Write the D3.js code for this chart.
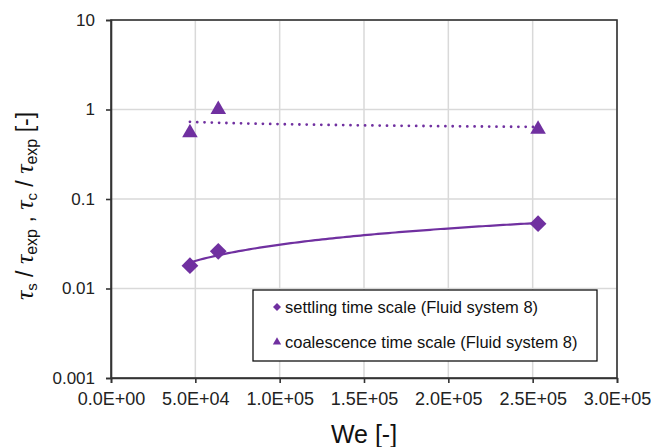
<!DOCTYPE html>
<html>
<head>
<meta charset="utf-8">
<script src="https://cdn.jsdelivr.net/npm/d3@7"></script>
<style>
  html, body { margin: 0; padding: 0; background: #fff; }
  svg { display: block; font-family: "Liberation Sans", Arial, sans-serif; }
</style>
</head>
<body>
<svg id="chart" width="651" height="447"></svg>
<script>
// Weber number of each measurement
const weberNumbers = [46800, 63600, 253200];
// Settling time scale / experimental time
const settlingRatio = [0.018, 0.026, 0.053];
// Coalescence time scale / experimental time
const coalescenceRatio = [0.55, 1.0, 0.6];

const xTicks = [0, 50000, 100000, 150000, 200000, 250000, 300000];
const yTicks = [0.001, 0.01, 0.1, 1, 10];
const seriesNames = ["settling time scale (Fluid system 8)", "coalescence time scale (Fluid system 8)"];

const purple = "#7030A0";
const svg = d3.select("#chart");

const plot = { left: 111, right: 617, top: 20, bottom: 378 };

const x = d3.scaleLinear().domain([0, 300000]).range([plot.left, plot.right]);
const y = d3.scaleLog().domain([0.001, 10]).range([plot.bottom, plot.top]);

// Gridlines
svg.append("g").selectAll("line.vg")
  .data(xTicks.slice(1))
  .join("line")
  .attr("x1", d => x(d)).attr("x2", d => x(d))
  .attr("y1", plot.top).attr("y2", plot.bottom)
  .attr("stroke", "#d9d9d9").attr("stroke-width", 1.5);
svg.append("g").selectAll("line.hg")
  .data(yTicks.slice(1))
  .join("line")
  .attr("x1", plot.left).attr("x2", plot.right)
  .attr("y1", d => y(d)).attr("y2", d => y(d))
  .attr("stroke", "#d9d9d9").attr("stroke-width", 1.5);

// Plot frame
svg.append("rect")
  .attr("x", plot.left).attr("y", plot.top)
  .attr("width", plot.right - plot.left).attr("height", plot.bottom - plot.top)
  .attr("fill", "none").attr("stroke", "#333").attr("stroke-width", 1.6);

// Axes
const fmtX = d => d === 0 ? "0.0E+00" : d3.format(".1e")(d).replace("e+", "E+0").toUpperCase();
const xAxis = svg.append("g")
  .attr("transform", `translate(0,${plot.bottom})`)
  .call(d3.axisBottom(x).tickValues(xTicks).tickFormat(fmtX).tickSize(5).tickPadding(9));
const yAxis = svg.append("g")
  .attr("transform", `translate(${plot.left},0)`)
  .call(d3.axisLeft(y).tickValues(yTicks).tickFormat(d => String(d)).tickSize(5).tickPadding(11));
[xAxis, yAxis].forEach(a => {
  a.select(".domain").attr("stroke", "#333").attr("stroke-width", 1.6);
  a.selectAll(".tick line").attr("stroke", "#333").attr("stroke-width", 1.6);
  a.selectAll(".tick text")
    .attr("fill", "#222")
    .style("font-family", "'Liberation Sans', Arial, sans-serif");
});
xAxis.selectAll(".tick text").style("font-size", "18px");
yAxis.selectAll(".tick text").style("font-size", "17px");

// Power-law trendline fitted in log-log space
function powerFit(xs, ys) {
  const lx = xs.map(Math.log), ly = ys.map(Math.log);
  const mx = d3.mean(lx), my = d3.mean(ly);
  const b = d3.sum(lx, (v, i) => (v - mx) * (ly[i] - my)) / d3.sum(lx, v => (v - mx) ** 2);
  const a = my - b * mx;
  return v => Math.exp(a + b * Math.log(v));
}
function trendPoints(xs, ys) {
  const f = powerFit(xs, ys);
  const [lo, hi] = d3.extent(xs);
  return d3.range(0, 101).map(i => { const v = lo + (hi - lo) * i / 100; return [v, f(v)]; });
}
const line = d3.line().x(d => x(d[0])).y(d => y(d[1]));

svg.append("path")
  .attr("d", line(trendPoints(weberNumbers, settlingRatio)))
  .attr("fill", "none").attr("stroke", purple).attr("stroke-width", 2.2);
svg.append("path")
  .attr("d", line(trendPoints(weberNumbers, coalescenceRatio)))
  .attr("fill", "none").attr("stroke", purple).attr("stroke-width", 2.8)
  .attr("stroke-linecap", "round").attr("stroke-dasharray", "0 7.3");

// Markers
const diamond = d3.symbol().type(d3.symbolSquare).size(140);
const triangle = d3.symbol().type(d3.symbolTriangle).size(105);

svg.append("g").selectAll("path")
  .data(weberNumbers.map((w, i) => [w, settlingRatio[i]]))
  .join("path")
  .attr("d", diamond)
  .attr("transform", d => `translate(${x(d[0])},${y(d[1])}) rotate(45)`)
  .attr("fill", purple);
svg.append("g").selectAll("path")
  .data(weberNumbers.map((w, i) => [w, coalescenceRatio[i]]))
  .join("path")
  .attr("d", triangle)
  .attr("transform", d => `translate(${x(d[0])},${y(d[1])})`)
  .attr("fill", purple);

// Legend
const legend = svg.append("g");
legend.append("rect")
  .attr("x", 253).attr("y", 290).attr("width", 344).attr("height", 71)
  .attr("fill", "#fff").attr("stroke", "#111").attr("stroke-width", 1.3);
const legendRows = [
  { name: seriesNames[0], sym: d3.symbol().type(d3.symbolSquare).size(32), rot: 45, y: 307 },
  { name: seriesNames[1], sym: d3.symbol().type(d3.symbolTriangle).size(30), rot: 0, y: 342 }
];
legendRows.forEach(r => {
  legend.append("path").attr("d", r.sym())
    .attr("transform", `translate(277,${r.y}) rotate(${r.rot})`)
    .attr("fill", purple);
  legend.append("text").attr("x", 285).attr("y", r.y + 6)
    .attr("font-size", 16.5).attr("fill", "#111").text(r.name);
});

// Axis titles
svg.append("text")
  .attr("x", x(150000)).attr("y", 443)
  .attr("text-anchor", "middle").attr("font-size", 25).attr("fill", "#111")
  .text("We [-]");

const tau = "font-family:'Liberation Serif',serif;font-style:italic";
const yTitle = svg.append("text")
  .attr("transform", `translate(33,206) rotate(-90)`)
  .attr("text-anchor", "middle").attr("font-size", 23).attr("fill", "#111");
yTitle.append("tspan").attr("style", tau).attr("font-size", 26).text("τ");
yTitle.append("tspan").attr("dy", 4).attr("font-size", 15).text("s");
yTitle.append("tspan").attr("dy", -4).text(" / ");
yTitle.append("tspan").attr("style", tau).attr("font-size", 26).text("τ");
yTitle.append("tspan").attr("dy", 4).attr("font-size", 16).text("exp");
yTitle.append("tspan").attr("dy", -4).text(" , ");
yTitle.append("tspan").attr("style", tau).attr("font-size", 26).text("τ");
yTitle.append("tspan").attr("dy", 4).attr("font-size", 15).text("c");
yTitle.append("tspan").attr("dy", -4).text(" / ");
yTitle.append("tspan").attr("style", tau).attr("font-size", 26).text("τ");
yTitle.append("tspan").attr("dy", 4).attr("font-size", 16).text("exp");
yTitle.append("tspan").attr("dy", -4).text(" [-]");
</script>
</body>
</html>
